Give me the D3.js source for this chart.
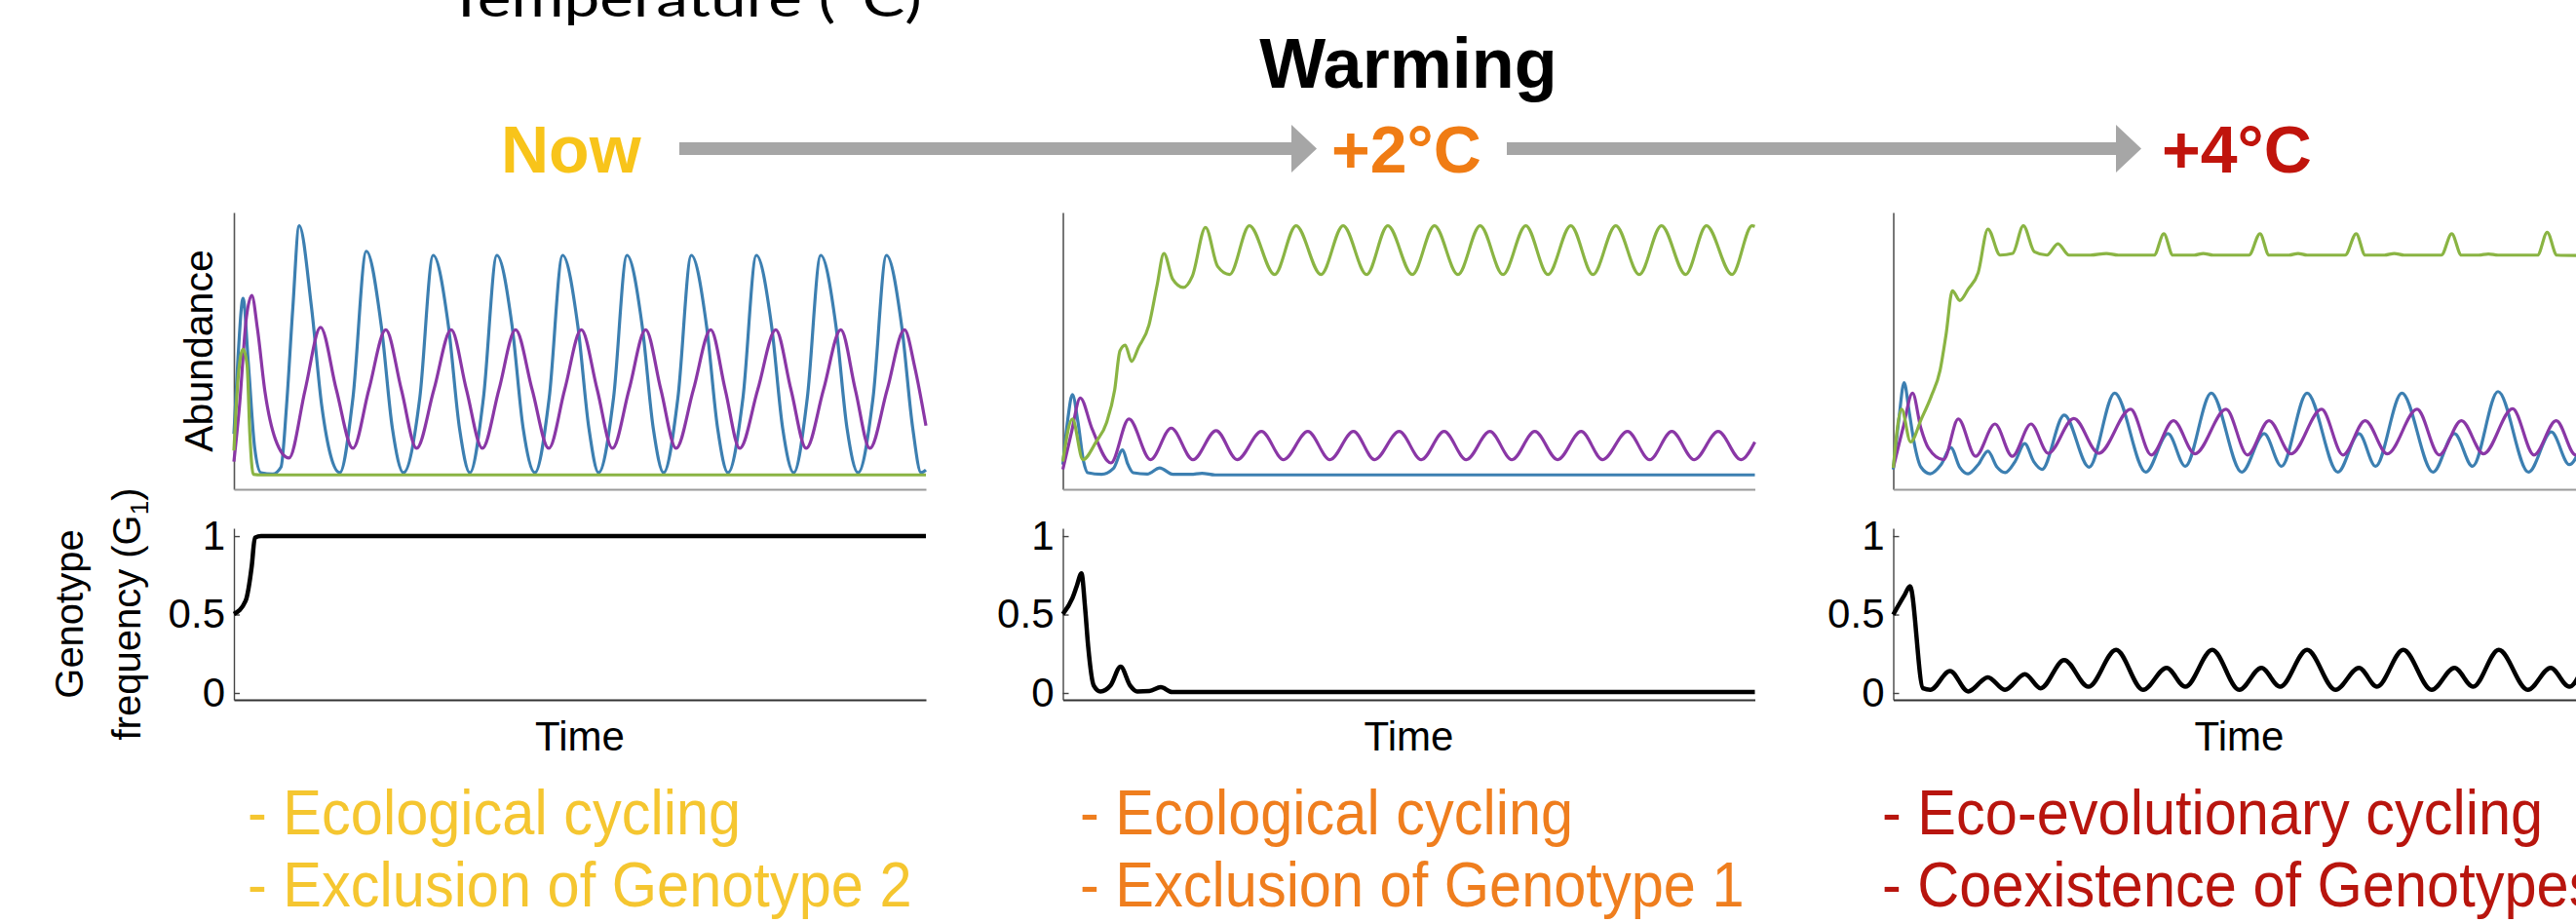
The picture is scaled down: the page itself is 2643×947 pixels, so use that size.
<!DOCTYPE html>
<html>
<head>
<meta charset="UTF-8">
<title>Warming scenarios</title>
<script src="https://d3js.org/d3.v7.min.js"></script>
<style>
  body { margin: 0; background: #fff; }
  svg text { font-family: "Liberation Sans", Arial, sans-serif; }
</style>
</head>
<body>
<div id="chart"></div>
<script>
// ---- data: [time (0-100), value] ----
var scenarios = ["Now", "+2°C", "+4°C"];
var scenarioColors = ["#F8C41A", "#F07C14", "#C0140C"];
var descColors = ["#F5C630", "#EF7E1E", "#B8150E"];
var descNow = ["- Ecological cycling", "- Exclusion of Genotype 2"];
var descTwo = ["- Ecological cycling", "- Exclusion of Genotype 1"];
var descFour = ["- Eco-evolutionary cycling", "- Coexistence of Genotypes"];
var genoTicks = [0, 0.5, 1];

var now_blue = [[0,0.20],[0.6,0.48],[1.32,0.69],[2.1,0.45],[3.0,0.15],[3.9,0.06],[5.6,0.055],[6.8,0.08],[7.6,0.30],[8.5,0.65],[9.43,0.952],[11.2,0.66],[12.7,0.30],[14.0,0.12],[15.3,0.06],
  [17.2,0.33],[19.14,0.86],[21.3,0.59],[22.9,0.22],[24.5,0.06],
  [26.86,0.33],[28.8,0.845],[31.0,0.59],[32.6,0.22],[34.1,0.06],
  [36.06,0.33],[38.0,0.845],[40.2,0.59],[41.8,0.22],[43.5,0.06],
  [45.56,0.33],[47.5,0.845],[49.7,0.59],[51.3,0.22],[52.7,0.06],
  [54.86,0.33],[56.8,0.845],[59.0,0.59],[60.6,0.22],[62.1,0.06],
  [64.16,0.33],[66.1,0.845],[68.3,0.59],[69.9,0.22],[71.4,0.06],
  [73.56,0.33],[75.5,0.845],[77.7,0.59],[79.3,0.22],[80.9,0.06],
  [82.86,0.33],[84.8,0.845],[87.0,0.59],[88.6,0.22],[90.2,0.06],
  [92.36,0.33],[94.3,0.845],[96.5,0.59],[98.1,0.22],[99.3,0.06],[100,0.07]];
var now_purple = [[0,0.10],[0.8,0.30],[1.8,0.62],[2.58,0.70],[3.4,0.58],[4.5,0.35],[6.0,0.18],[7.95,0.113],
  [10.3,0.36],[12.52,0.585],[14.8,0.36],[17.2,0.148],[19.5,0.36],[21.95,0.576],[24.2,0.36],[26.4,0.148],
  [28.9,0.36],[31.4,0.576],[33.6,0.36],[35.9,0.148],[38.3,0.36],[40.7,0.576],[43.1,0.36],[45.5,0.148],
  [47.8,0.36],[50.2,0.576],[52.5,0.36],[54.7,0.148],[57.1,0.36],[59.5,0.576],[61.7,0.36],[63.9,0.148],
  [66.4,0.36],[68.9,0.576],[71.0,0.36],[73.1,0.148],[75.7,0.36],[78.3,0.576],[80.5,0.36],[82.7,0.148],
  [85.2,0.36],[87.7,0.576],[89.8,0.36],[91.9,0.148],[94.4,0.36],[96.9,0.576],[98.4,0.44],[100,0.23]];
var now_green = [[0,0.14],[0.6,0.40],[1.32,0.506],[1.9,0.45],[2.3,0.20],[2.79,0.054],[4,0.052],[100,0.052]];
var now_geno = [[0,0.503],[1.68,0.586],[2.58,0.81],[3.03,0.99],[3.93,1.0],[100,1.0]];

var two_blue = [[0,0.089],[0.7,0.25],[1.38,0.342],[2.2,0.24],[3.0,0.10],[3.6,0.06],[5.58,0.054],[7.3,0.075],[8.63,0.142],[9.4,0.09],[10.15,0.06],[12.2,0.055],[14.0,0.077],[15.9,0.054],[18.5,0.054],[20.1,0.058],[22,0.052],[100,0.052]];
var two_purple = [[0,0.072],[1.2,0.20],[2.52,0.330],[4.2,0.22],[6.95,0.095],[9.55,0.254],[12.68,0.107],[15.66,0.221],[18.8,0.107],[22.15,0.212],[25.2,0.107],[28.7,0.209],[31.9,0.107],[35.4,0.209],[38.6,0.107],[42.0,0.209],[45.05,0.107],[48.6,0.209],[51.8,0.107],[55.1,0.209],[58.3,0.107],[61.7,0.209],[64.9,0.107],[68.2,0.209],[71.5,0.107],[74.9,0.209],[78.0,0.107],[81.6,0.209],[84.8,0.107],[88.0,0.209],[91.25,0.107],[94.7,0.209],[98.0,0.107],[100,0.171]];
var two_green = [[0,0.10],[1.38,0.254],[2.9,0.107],[4.8,0.171],[6.34,0.242],[7.49,0.359],[8.25,0.50],[9.01,0.521],[9.93,0.462],[10.92,0.512],[12.45,0.594],[13.6,0.735],[14.6,0.852],[15.89,0.758],[17.4,0.729],[18.71,0.770],[20.62,0.946],[22.37,0.805],[24.1,0.776],[26.96,0.952],[30.6,0.776],[33.7,0.952],[37.3,0.776],[40.5,0.952],[43.9,0.776],[46.96,0.952],[50.5,0.776],[53.7,0.952],[57.1,0.776],[60.3,0.952],[63.6,0.776],[66.9,0.952],[70.1,0.776],[73.4,0.952],[76.6,0.776],[79.9,0.952],[83.3,0.776],[86.5,0.952],[90.0,0.776],[93.0,0.952],[96.7,0.776],[99.6,0.952],[100,0.95]];
var two_geno = [[0,0.503],[1.4,0.607],[2.0,0.68],[2.69,0.762],[3.2,0.55],[3.66,0.296],[4.46,0.048],[5.44,0.01],[6.89,0.048],[8.35,0.168],[9.72,0.048],[10.77,0.01],[12.5,0.012],[14.15,0.037],[15.8,0.006],[100,0.006]];

var four_blue = [[0,0.072],[0.8,0.25],[1.57,0.385],[2.3,0.28],[3.0,0.171],[4.0,0.08],[5.34,0.056],[6.9,0.089],[8.33,0.150],[9.6,0.08],[10.8,0.056],[12.3,0.09],[13.68,0.138],[15.0,0.08],[16.17,0.06],[17.6,0.10],[19.0,0.165],[20.3,0.10],[21.5,0.072],[24.7,0.268],[28.3,0.080],[32.0,0.347],[36.5,0.062],[39.7,0.201],[42.2,0.083],[45.95,0.347],[50.36,0.062],[53.6,0.201],[56.1,0.083],[59.8,0.347],[64.25,0.062],[67.3,0.201],[69.7,0.083],[73.5,0.347],[78.0,0.062],[81.1,0.201],[83.7,0.083],[87.4,0.353],[91.8,0.062],[95.1,0.207],[97.7,0.089],[100,0.20]];
var four_purple = [[0,0.077],[1.4,0.22],[2.79,0.347],[4.0,0.22],[5.1,0.148],[7.27,0.107],[9.4,0.254],[11.9,0.119],[14.7,0.236],[17.2,0.119],[19.9,0.236],[22.4,0.130],[26.1,0.256],[29.7,0.130],[34.3,0.289],[37.3,0.124],[40.5,0.248],[43.6,0.128],[48.1,0.289],[51.2,0.124],[54.3,0.248],[57.5,0.128],[61.9,0.289],[65.0,0.124],[68.2,0.248],[71.4,0.128],[75.7,0.289],[78.9,0.124],[82.1,0.248],[85.3,0.128],[89.5,0.291],[92.6,0.124],[95.8,0.248],[98.6,0.124],[100,0.15]];
var four_green = [[0,0.077],[1.21,0.289],[2.5,0.171],[4.06,0.254],[5.49,0.336],[6.77,0.43],[7.63,0.559],[8.55,0.717],[9.62,0.682],[10.83,0.723],[12.26,0.782],[13.68,0.94],[15.45,0.846],[17.25,0.852],[18.8,0.952],[20.4,0.858],[22.2,0.846],[23.8,0.887],[25.4,0.846],[28.5,0.846],[30.8,0.852],[32.5,0.846],[37.7,0.846],[39.1,0.923],[40.4,0.846],[43.5,0.846],[44.8,0.852],[46.2,0.846],[51.4,0.846],[53.0,0.923],[54.3,0.846],[57.2,0.846],[58.5,0.852],[59.8,0.846],[65.3,0.846],[66.9,0.923],[68.2,0.846],[71.0,0.846],[72.4,0.852],[73.8,0.846],[79.2,0.846],[80.7,0.923],[82.1,0.846],[84.6,0.846],[86.0,0.850],[87.4,0.846],[93.1,0.846],[94.5,0.928],[95.9,0.846],[100,0.844]];
var four_geno = [[0,0.5],[1.58,0.62],[2.42,0.68],[4.3,0.03],[5.35,0.02],[8.2,0.14],[10.83,0.01],[13.68,0.10],[16.13,0.02],[19.03,0.12],[21.3,0.03],[24.7,0.21],[28.2,0.04],[32.2,0.275],[36.1,0.02],[39.5,0.16],[42.2,0.04],[46.1,0.275],[50.0,0.02],[53.2,0.16],[55.9,0.04],[59.8,0.275],[63.9,0.02],[67.3,0.16],[69.9,0.04],[73.7,0.275],[77.8,0.02],[81.1,0.16],[83.8,0.04],[87.5,0.275],[91.7,0.02],[95.0,0.16],[97.7,0.04],[100,0.2]];

var blueCol = "#3C7FB1", purpleCol = "#8A37A6", greenCol = "#8AB443";

var panels = [
  {blue: now_blue, purple: now_purple, green: now_green, geno: now_geno, desc: descNow},
  {blue: two_blue, purple: two_purple, green: two_green, geno: two_geno, desc: descTwo},
  {blue: four_blue, purple: four_purple, green: four_green, geno: four_geno, desc: descFour}
];

// ---- layout ----
var W = 2643, H = 947;
var panelLeft = [240, 1090.5, 1942.5], panelW = 710;
var abTop = 218, abBot = 502, gTop = 542, gBot = 718;

var svg = d3.select("#chart").append("svg")
    .attr("width", W).attr("height", H)
    .style("display", "block");

var yAb = d3.scaleLinear().domain([0, 1]).range([abBot, abTop]);
var yG = d3.scaleLinear().domain([-0.0435, 1.05]).range([gBot, gTop]);

// temperature header (cut at the top edge, like the source)
var temp = svg.append("text")
    .style("font-family", "Lato, 'Open Sans', sans-serif")
    .style("font-size", "52px")
    .attr("fill", "#000")
    .text("Temperature (°C)");
var tlen = temp.node().getComputedTextLength();
temp.attr("transform", "translate(459,17) scale(" + (487 / tlen) + ",1)");

svg.append("text")
    .attr("x", 1445).attr("y", 90)
    .attr("text-anchor", "middle")
    .style("font-size", "72px").style("font-weight", "bold")
    .text("Warming");

// arrows
var arrowCol = "#A6A6A6";
[[697, 1325, 1351], [1546, 2171, 2197]].forEach(function(a) {
  svg.append("rect").attr("x", a[0]).attr("y", 146).attr("width", a[1] - a[0] + 1).attr("height", 13).attr("fill", arrowCol);
  svg.append("path").attr("d", "M" + a[1] + ",128L" + a[2] + ",152.5L" + a[1] + ",177Z").attr("fill", arrowCol);
});

var titleX = [514, 1366, 2218];
scenarios.forEach(function(s, i) {
  svg.append("text")
      .attr("x", titleX[i]).attr("y", 177)
      .style("font-size", "68px").style("font-weight", "bold")
      .attr("fill", scenarioColors[i])
      .text(s);
});

// panels
var descX = [254, 1108, 1931];
panels.forEach(function(p, i) {
  var left = panelLeft[i];
  var x = d3.scaleLinear().domain([0, 100]).range([left, left + panelW]);
  var g = svg.append("g");

  // abundance axes
  g.append("g").attr("transform", "translate(" + left + ",0)")
      .call(d3.axisLeft(yAb).tickValues([]).tickSizeOuter(0))
      .select(".domain").attr("stroke", "#555").attr("stroke-width", 1.6);
  g.append("g").attr("transform", "translate(0," + abBot + ")")
      .call(d3.axisBottom(x).tickValues([]).tickSizeOuter(0))
      .select(".domain").attr("stroke", "#999").attr("stroke-width", 2);

  var lineA = d3.line().x(function(d) { return x(d[0]); }).y(function(d) { return yAb(d[1]); }).curve(d3.curveMonotoneX);
  [[p.blue, blueCol], [p.purple, purpleCol], [p.green, greenCol]].forEach(function(s) {
    g.append("path").datum(s[0]).attr("d", lineA)
        .attr("fill", "none").attr("stroke", s[1]).attr("stroke-width", 3.2)
        .attr("stroke-linejoin", "round");
  });

  // genotype axes
  var ya = g.append("g").attr("transform", "translate(" + left + ",0)")
      .call(d3.axisLeft(yG).tickValues(genoTicks).tickSize(-6).tickSizeOuter(0).tickPadding(9)
        .tickFormat(function(d) { return d; }));
  ya.select(".domain").attr("stroke", "#444").attr("stroke-width", 1.4);
  ya.selectAll(".tick line").attr("stroke", "#444").attr("stroke-width", 1.4);
  ya.selectAll(".tick text").style("font-size", "42px").style("font-family", "'Liberation Sans', Arial, sans-serif").attr("fill", "#000");

  g.append("g").attr("transform", "translate(0," + gBot + ")")
      .call(d3.axisBottom(x).tickValues([]).tickSizeOuter(0))
      .select(".domain").attr("stroke", "#333").attr("stroke-width", 2);

  var lineG = d3.line().x(function(d) { return x(d[0]); }).y(function(d) { return yG(d[1]); }).curve(d3.curveMonotoneX);
  g.append("path").datum(p.geno).attr("d", lineG)
      .attr("fill", "none").attr("stroke", "#000").attr("stroke-width", 4.5)
      .attr("stroke-linejoin", "round");

  g.append("text")
      .attr("x", left + panelW / 2).attr("y", 770)
      .attr("text-anchor", "middle")
      .style("font-size", "42px")
      .text("Time");

  // outcome notes
  p.desc.forEach(function(t, j) {
    g.append("text")
        .attr("transform", "translate(" + descX[i] + "," + (856 + j * 74) + ") scale(0.93,1)")
        .style("font-size", "64px")
        .attr("fill", descColors[i])
        .text(t);
  });
});

// y labels
svg.append("text")
    .attr("transform", "translate(218,360) rotate(-90)")
    .attr("text-anchor", "middle")
    .style("font-size", "41px")
    .text("Abundance");

svg.append("text")
    .attr("transform", "translate(85,630) rotate(-90)")
    .attr("text-anchor", "middle")
    .style("font-size", "40px")
    .text("Genotype");

var fl = svg.append("text")
    .attr("transform", "translate(144,630) rotate(-90)")
    .attr("text-anchor", "middle")
    .style("font-size", "40px");
fl.append("tspan").text("frequency (G");
fl.append("tspan").style("font-size", "26px").attr("dy", 8).text("1");
fl.append("tspan").attr("dy", -8).text(")");
</script>
</body>
</html>
